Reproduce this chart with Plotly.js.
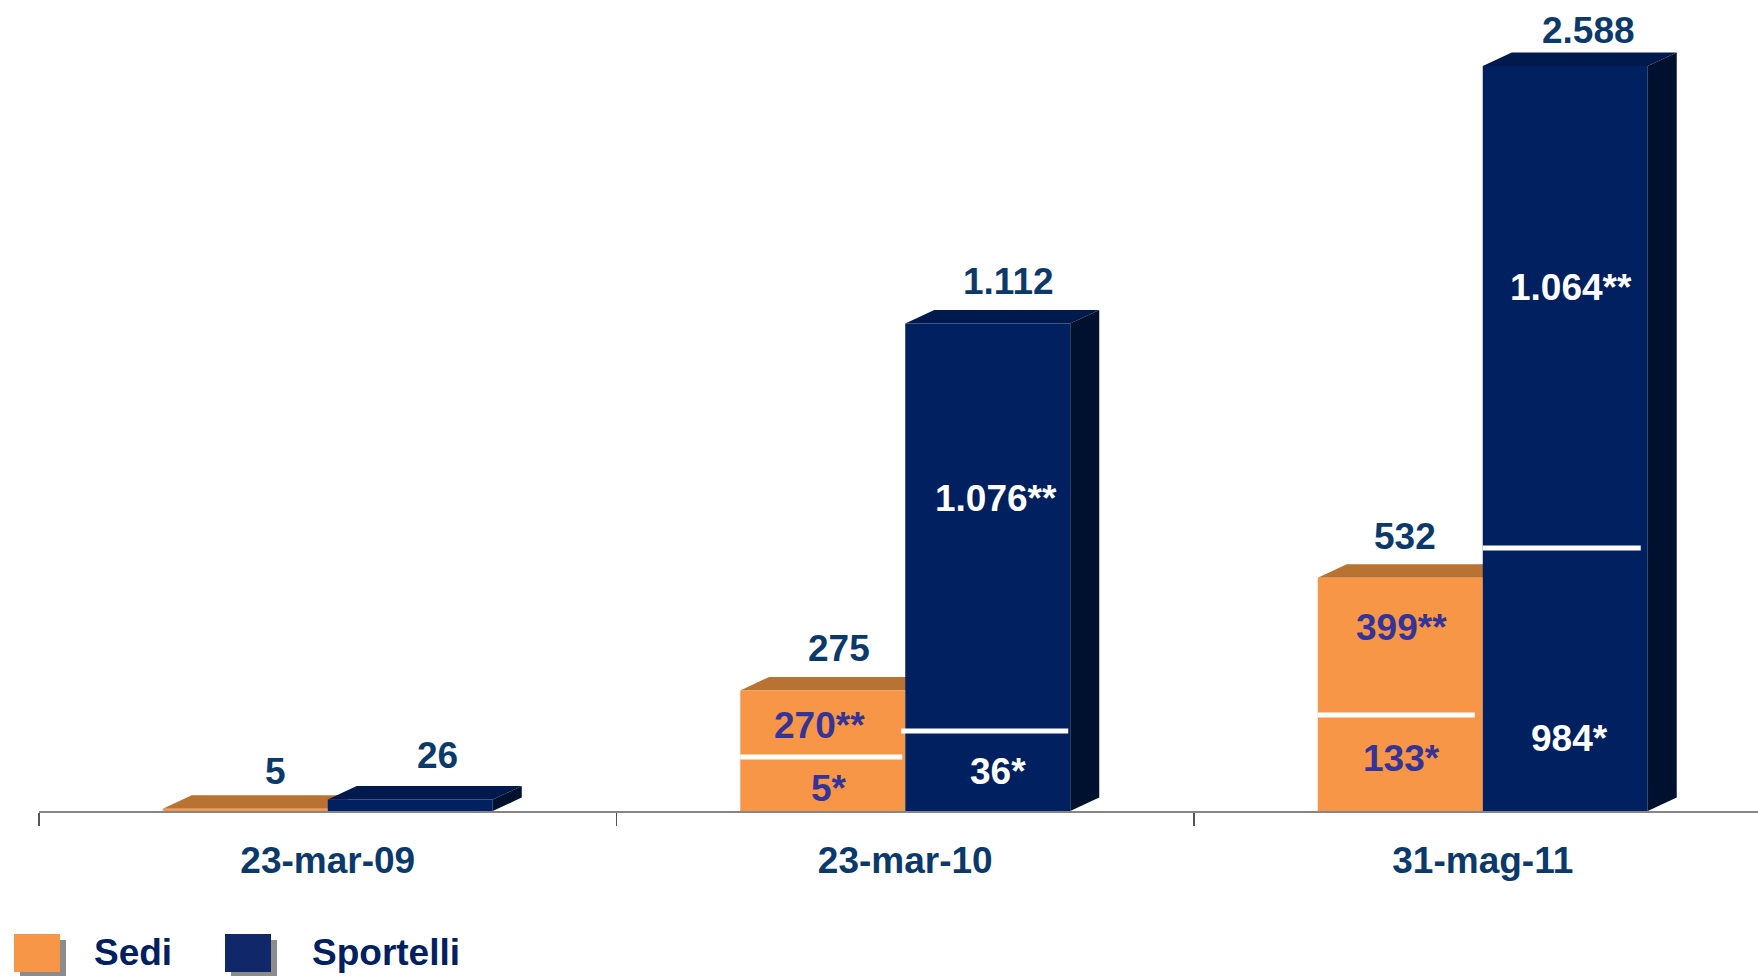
<!DOCTYPE html>
<html>
<head>
<meta charset="utf-8">
<script src="https://cdn.plot.ly/plotly-3.0.1.min.js"></script>
<style>html,body{margin:0;padding:0;background:#fff;}#chart{width:1758px;height:976px;}</style>
</head>
<body>
<div id="chart"></div>
<script>
// ---------- DATA ----------
const categories = ['23-mar-09', '23-mar-10', '31-mag-11'];
const seriesNames = ['Sedi', 'Sportelli'];
const sedi = [5, 275, 532];
const sportelli = [26, 1112, 2588];
// breakdown shown inside the bars (* and ** parts)
const sediOneStar = [null, 5, 133];
const sediTwoStar = [null, 270, 399];
const sportelliOneStar = [null, 36, 984];
const sportelliTwoStar = [null, 1076, 1064];

// ---------- STYLE / LAYOUT ----------
const FIG = {w: 1758, h: 976, l: 39, t: 66, b: 165, r: 0};
const PW = FIG.w - FIG.l - FIG.r;
const PH = FIG.h - FIG.t - FIG.b;
const PX_PER_CAT = 577.5;
const PX_PER_UNIT = 0.4385;
const X_RANGE = [-0.5, -0.5 + PW / PX_PER_CAT];
const Y_MAX = PH / PX_PER_UNIT;
const BARGAP = 0.4286;
const BAR_W = (1 - BARGAP) / 2;
const DEPTH = {dx: 29, dy: 13.5};
const C = {
  sediFront: '#F79646', sediTop: '#B87333',
  spFront: '#002060', spTop: '#001A4D', spSide: '#00112F',
  value: '#0B3A6A', inOrange: '#333399', inBlue: '#FFFFFF',
  legendText: '#002060', axis: '#868686', tick: '#555555'
};
const FONT = 'Liberation Sans, Arial, sans-serif';
// label tweaks (pixels)
const valueShift = {sedi: [30, 16, 5], sportelli: [27, 21, 23]};
const valueGap = {sedi: [24, 28.5, 27.5], sportelli: [31, 28, 22]};
// divider heights above base (px) and extents relative to bar edges
const sediSplitStyle = [null, {h: 54, a: 0, b: -3}, {h: 96, a: 0, b: -8}];
const spSplitStyle = [null, {h: 80, a: -4, b: -2}, {h: 263, a: 0, b: -7}];
// inner label positions: [xShift, height above base] for one-star / two-star
const sediLblStyle = [null, [[6, 23], [-3, 86]], [[1, 53], [1, 184]]];
const spLblStyle = [null, [[10, 40], [8, 313]], [[4, 73], [6, 524]]];

// ---------- helpers ----------
function xPx(u) { return FIG.l + (u - X_RANGE[0]) / (X_RANGE[1] - X_RANGE[0]) * PW; }
function yPx(v) { return FIG.t + PH - Math.min(v, Y_MAX) / Y_MAX * PH; }
function px2x(px) { return (px - FIG.l) / PW; }
function px2y(py) { return (FIG.t + PH - py) / PH; }
function fmtIt(v) { return String(v).replace(/\B(?=(\d{3})+(?!\d))/g, '.'); }

const shapes = [];
const annotations = [];

function poly(pts, color) {
  const d = 'M' + pts.map(p => px2x(p[0]).toFixed(5) + ',' + px2y(p[1]).toFixed(5)).join(' L') + ' Z';
  shapes.push({type: 'path', xref: 'paper', yref: 'paper', path: d, fillcolor: color,
    line: {width: 0}, layer: 'below'});
}
function text(x, y, t, size, color, xanchor) {
  annotations.push({xref: 'paper', yref: 'paper', x: px2x(x), y: px2y(y), text: '<b>' + t + '</b>',
    showarrow: false, xanchor: xanchor || 'center', yanchor: 'middle',
    font: {family: FONT, size: size, color: color}});
}

const base = yPx(0);
categories.forEach((c, i) => {
  // Sedi bar (left)
  const sx0 = xPx(i - BAR_W), sx1 = xPx(i);
  const sTop = yPx(sedi[i]);
  poly([[sx0, sTop], [sx0 + DEPTH.dx, sTop - DEPTH.dy], [sx1 + DEPTH.dx, sTop - DEPTH.dy], [sx1, sTop]], C.sediTop);
  text((sx0 + sx1) / 2 + valueShift.sedi[i], sTop - DEPTH.dy - valueGap.sedi[i], fmtIt(sedi[i]), 37, C.value);
  // Sportelli bar (right)
  const px0 = xPx(i), px1 = xPx(i + BAR_W);
  const pTop = yPx(sportelli[i]);
  poly([[px0, pTop], [px0 + DEPTH.dx, pTop - DEPTH.dy], [px1 + DEPTH.dx, pTop - DEPTH.dy], [px1, pTop]], C.spTop);
  poly([[px1, base], [px1 + DEPTH.dx, base - DEPTH.dy], [px1 + DEPTH.dx, pTop - DEPTH.dy], [px1, pTop]], C.spSide);
  text((px0 + px1) / 2 + valueShift.sportelli[i], pTop - DEPTH.dy - valueGap.sportelli[i], fmtIt(sportelli[i]), 37, C.value);

  if (sediOneStar[i] !== null) {
    const st = sediSplitStyle[i];
    shapes.push({type: 'line', xref: 'paper', yref: 'paper',
      x0: px2x(sx0 + st.a), x1: px2x(sx1 + st.b), y0: px2y(base - st.h), y1: px2y(base - st.h),
      line: {color: '#FFFFFF', width: 5}, layer: 'above'});
    const ls = sediLblStyle[i];
    text((sx0 + sx1) / 2 + ls[0][0], base - ls[0][1], fmtIt(sediOneStar[i]) + '*', 37, C.inOrange);
    text((sx0 + sx1) / 2 + ls[1][0], base - ls[1][1], fmtIt(sediTwoStar[i]) + '**', 37, C.inOrange);
  }
  if (sportelliOneStar[i] !== null) {
    const st = spSplitStyle[i];
    shapes.push({type: 'line', xref: 'paper', yref: 'paper',
      x0: px2x(px0 + st.a), x1: px2x(px1 + st.b), y0: px2y(base - st.h), y1: px2y(base - st.h),
      line: {color: '#FFFFFF', width: 5}, layer: 'above'});
    const ls = spLblStyle[i];
    text((px0 + px1) / 2 + ls[0][0], base - ls[0][1], fmtIt(sportelliOneStar[i]) + '*', 37, C.inBlue);
    text((px0 + px1) / 2 + ls[1][0], base - ls[1][1], fmtIt(sportelliTwoStar[i]) + '**', 37, C.inBlue);
  }
});

// legend (custom, larger swatches)
const legendItems = [
  {sq: 14, tx: 92, color: C.sediFront},
  {sq: 225, tx: 310, color: '#10286A'}
];
legendItems.forEach((it, k) => {
  shapes.push({type: 'rect', xref: 'paper', yref: 'paper', x0: px2x(it.sq + 6), x1: px2x(it.sq + 52),
    y0: px2y(940), y1: px2y(977), fillcolor: '#8C8C8C', line: {width: 0}, layer: 'above'});
  shapes.push({type: 'rect', xref: 'paper', yref: 'paper', x0: px2x(it.sq), x1: px2x(it.sq + 46),
    y0: px2y(934), y1: px2y(972), fillcolor: it.color, line: {width: 0}, layer: 'above'});
  text(it.tx, 952, seriesNames[k], 37, C.legendText, 'left');
});

const traces = [
  {type: 'bar', name: seriesNames[0], x: categories, y: sedi, marker: {color: C.sediFront, line: {width: 0}},
   hoverinfo: 'x+y+name'},
  {type: 'bar', name: seriesNames[1], x: categories, y: sportelli, marker: {color: C.spFront, line: {width: 0}},
   hoverinfo: 'x+y+name'}
];

const layout = {
  width: FIG.w, height: FIG.h,
  margin: {l: FIG.l, r: FIG.r, t: FIG.t, b: FIG.b, pad: 0},
  paper_bgcolor: '#FFFFFF', plot_bgcolor: 'rgba(0,0,0,0)',
  barmode: 'group', bargap: BARGAP, bargroupgap: 0,
  showlegend: false,
  separators: ',.',
  xaxis: {type: 'category', range: X_RANGE, fixedrange: true, automargin: false,
    showline: true, linecolor: C.axis, linewidth: 2,
    ticks: 'outside', tickson: 'boundaries', ticklen: 13, tickwidth: 1.5, tickcolor: C.tick,
    showgrid: false, zeroline: false, ticklabelstandoff: 16,
    tickfont: {family: FONT, size: 37, color: C.value, weight: 'bold'}},
  yaxis: {range: [0, Y_MAX], visible: false, fixedrange: true, showgrid: false, zeroline: false, automargin: false},
  shapes: shapes,
  annotations: annotations,
  font: {family: FONT}
};

Plotly.newPlot('chart', traces, layout, {displayModeBar: false, staticPlot: true});
</script>
</body>
</html>
